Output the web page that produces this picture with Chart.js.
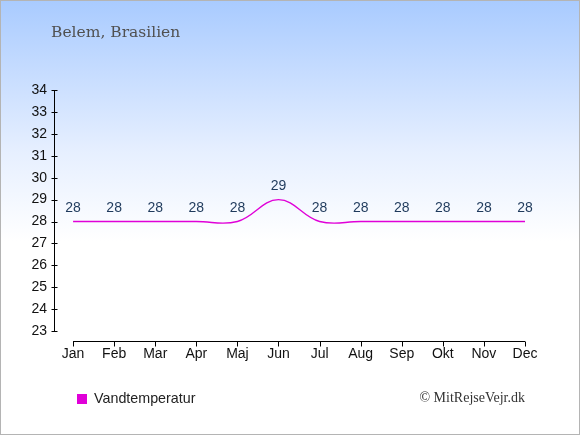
<!DOCTYPE html>
<html lang="da">
<head>
    <meta charset="UTF-8">
    <title>Belem, Brasilien - Vandtemperatur</title>
    <script src="https://cdn.jsdelivr.net/npm/chart.js"></script>
    <style>
        html, body { margin: 0; padding: 0; background: #fff; }
        #wrap { width: 578px; height: 433px; border: 1px solid #b4b4b4; position: relative;
                background: linear-gradient(to bottom, #a9cbff 0px, #e6efff 150px, #ffffff 240px, #ffffff 100%); }
        canvas { display: block; }
    </style>
</head>
<body>
    <div id="wrap"><canvas id="tempChart" width="578" height="433"></canvas></div>

    <script>
        const months = ['Jan', 'Feb', 'Mar', 'Apr', 'Maj', 'Jun', 'Jul', 'Aug', 'Sep', 'Okt', 'Nov', 'Dec'];
        const waterTemp = [28, 28, 28, 28, 28, 29, 28, 28, 28, 28, 28, 28];
        const yTicks = [23, 24, 25, 26, 27, 28, 29, 30, 31, 32, 33, 34];

        const lineColor = '#e000d8';

        // axes, value labels, title, legend and credit drawn on the canvas
        const extras = {
            id: 'extras',
            afterDraw(chart) {
                const ctx = chart.ctx;
                const x = chart.scales.x, y = chart.scales.y;
                ctx.save();
                ctx.strokeStyle = '#000';
                ctx.lineWidth = 1;

                // y axis
                const ax = Math.round(x.left) - 0.5;
                ctx.beginPath();
                ctx.moveTo(ax, y.getPixelForValue(34));
                ctx.lineTo(ax, y.getPixelForValue(23));
                yTicks.forEach(v => {
                    const py = Math.round(y.getPixelForValue(v)) + 0.5;
                    ctx.moveTo(ax - 3, py);
                    ctx.lineTo(ax + 3, py);
                });
                ctx.stroke();

                // x axis
                const ay = Math.round(y.bottom) + 0.5;
                ctx.beginPath();
                ctx.moveTo(x.getPixelForValue(0), ay);
                ctx.lineTo(x.getPixelForValue(months.length - 1), ay);
                months.forEach((m, i) => {
                    const px = Math.round(x.getPixelForValue(i)) + 0.5;
                    ctx.moveTo(px, ay);
                    ctx.lineTo(px, ay + 5);
                });
                ctx.stroke();

                // value labels
                const meta = chart.getDatasetMeta(0);
                ctx.fillStyle = '#1f3a5c';
                ctx.font = '14px "Liberation Sans", Arial, sans-serif';
                ctx.textAlign = 'center';
                ctx.textBaseline = 'middle';
                meta.data.forEach((pt, i) => {
                    ctx.fillText(String(waterTemp[i]), pt.x, pt.y - 13);
                });

                // title
                ctx.fillStyle = '#505050';
                ctx.font = '15.5px "DejaVu Serif", serif';
                ctx.textAlign = 'left';
                ctx.fillText('Belem, Brasilien', 50, 32);

                // legend
                ctx.fillStyle = lineColor;
                ctx.fillRect(76, 393, 10, 10);
                ctx.fillStyle = '#222';
                ctx.font = '14.3px "Liberation Sans", Arial, sans-serif';
                ctx.fillText('Vandtemperatur', 93, 398);

                // credit
                ctx.fillStyle = '#333';
                ctx.font = '14px "Liberation Serif", serif';
                ctx.textAlign = 'right';
                ctx.fillText('\u00A9 MitRejseVejr.dk', 524, 397);
                ctx.restore();
            }
        };

        new Chart(document.getElementById('tempChart').getContext('2d'), {
            type: 'line',
            data: {
                datasets: [{
                    label: 'Vandtemperatur',
                    data: waterTemp.map((v, i) => ({ x: i, y: v })),
                    borderColor: lineColor,
                    borderWidth: 1.4,
                    pointRadius: 0,
                    tension: 0.4,
                    fill: false
                }]
            },
            options: {
                responsive: false,
                animation: false,
                devicePixelRatio: 1,
                layout: { padding: { top: 89, right: 54, bottom: 0, left: 0 } },
                plugins: { legend: { display: false }, tooltip: { enabled: false } },
                scales: {
                    x: {
                        type: 'linear',
                        min: -0.44,
                        max: 11,
                        grid: { display: false, drawTicks: false },
                        border: { display: false },
                        afterBuildTicks: s => { s.ticks = months.map((m, i) => ({ value: i })); },
                        afterFit: s => { s.height = 433 - 340; },
                        ticks: {
                            padding: 5,
                            autoSkip: false,
                            maxRotation: 0,
                            color: '#111',
                            font: { family: '"Liberation Sans", Arial, sans-serif', size: 14 },
                            callback: v => months[v]
                        }
                    },
                    y: {
                        min: 22.55,
                        max: 34,
                        grid: { display: false, drawTicks: false },
                        border: { display: false },
                        afterBuildTicks: s => { s.ticks = yTicks.map(v => ({ value: v })); },
                        afterFit: s => { s.width = 54; },
                        ticks: {
                            padding: 8,
                            color: '#111',
                            font: { family: '"Liberation Sans", Arial, sans-serif', size: 14 }
                        }
                    }
                }
            },
            plugins: [extras]
        });
    </script>
</body>
</html>
